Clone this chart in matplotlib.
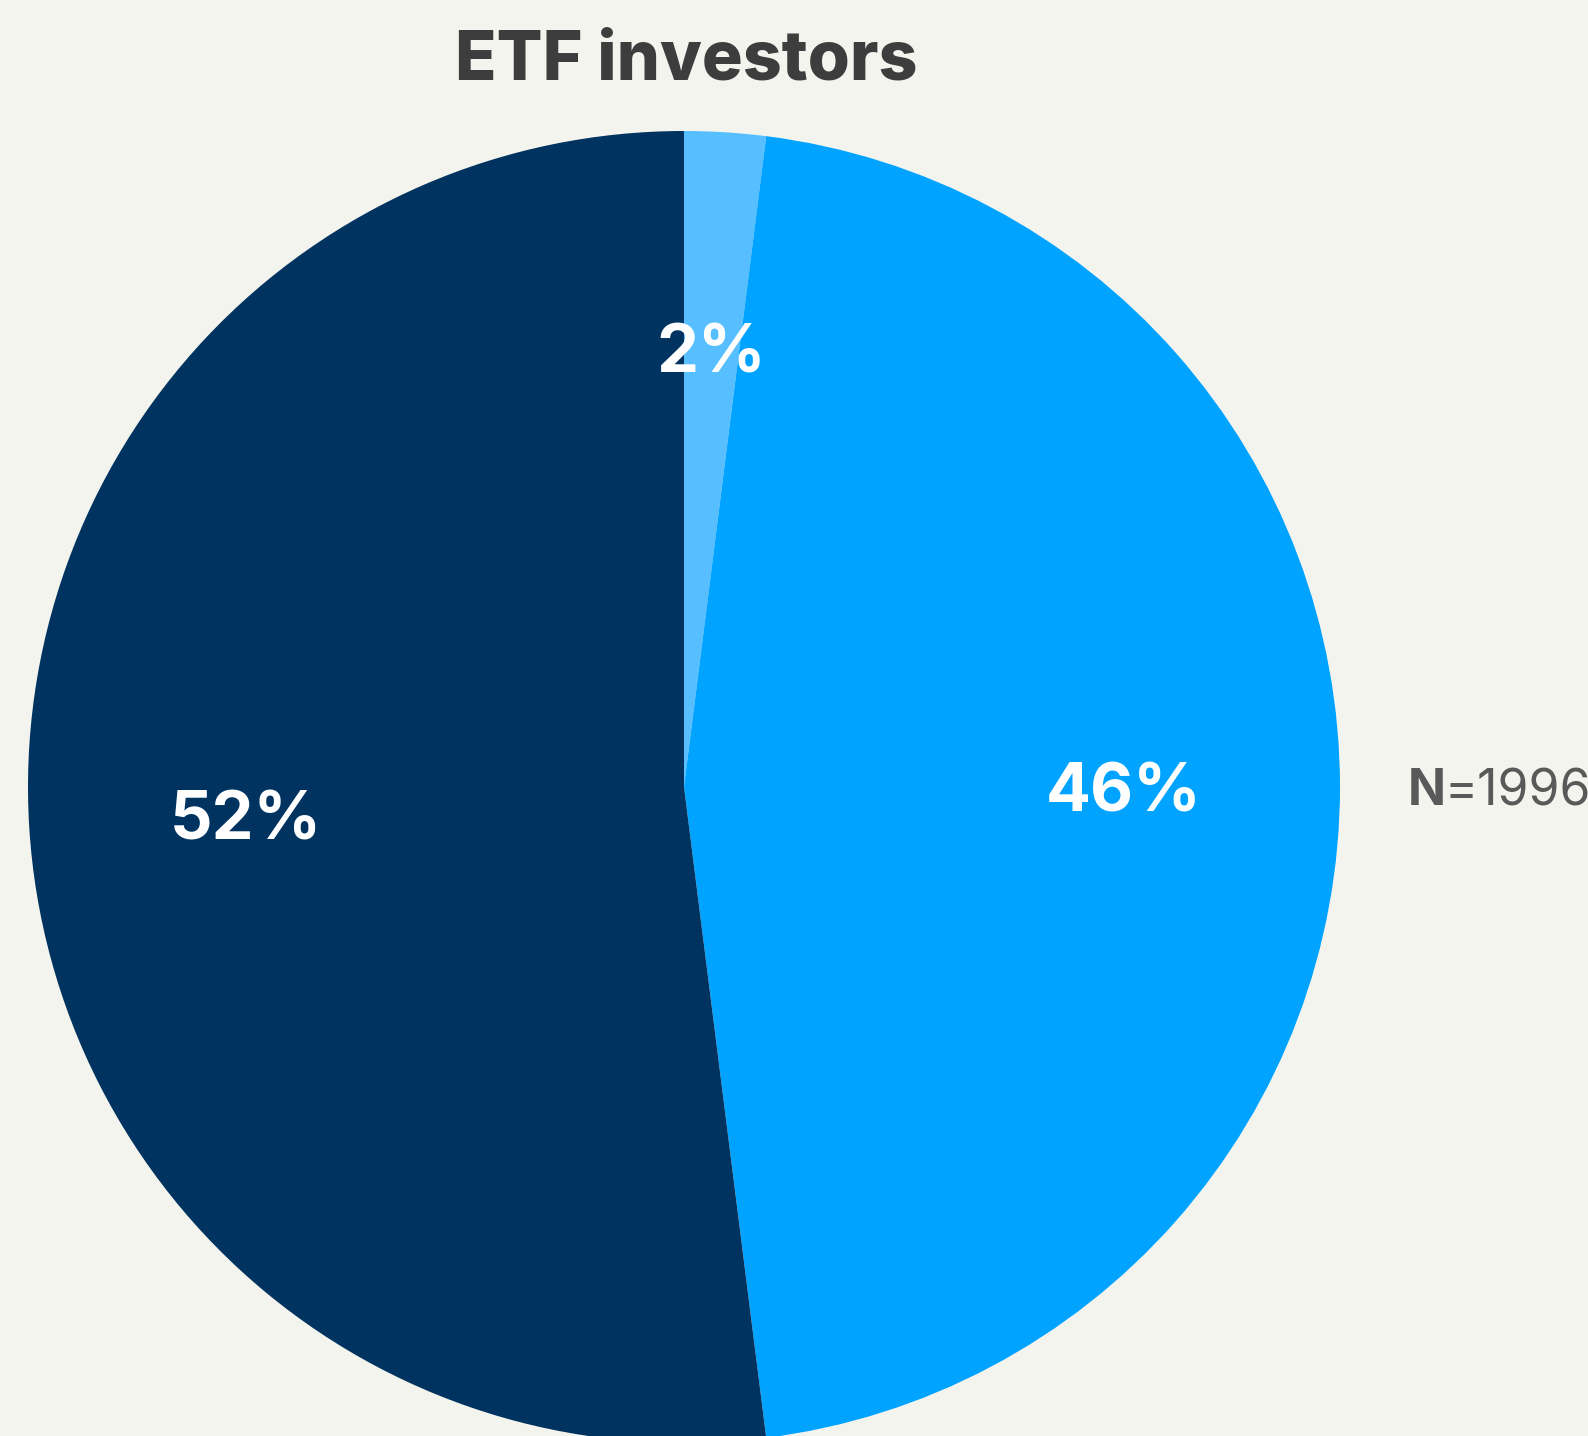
import matplotlib.pyplot as plt

plt.rcParams['font.family'] = ['Inter', 'DejaVu Sans']

# data
shares = [2, 46, 52]
colors = ['#57BFFF', '#00A3FF', '#003360']
title = 'ETF investors'
n_label = '1996'

W, H = 1588, 1436
fig = plt.figure(figsize=(W / 100, H / 100), dpi=100)
fig.patch.set_facecolor('#F4F4EF')

# pie centre and radius in pixels
cx, cy, r = 684, 787, 656
ax = fig.add_axes([(cx - r) / W, (H - cy - r) / H, 2 * r / W, 2 * r / H])
wedges, texts, autotexts = ax.pie(
    shares, colors=colors, startangle=90, counterclock=False,
    autopct=lambda p: f'{p:.0f}%', pctdistance=0.67,
    wedgeprops=dict(linewidth=0),
    textprops=dict(color='white', fontsize=48, fontweight='bold'))
for t in autotexts:
    t.set_va('center_baseline')
ax.set_xlim(-1, 1)
ax.set_ylim(-1, 1)
ax.set_aspect('equal')
ax.axis('off')

fig.text(686 / W, 1 - 80 / H, title, ha='center', va='baseline',
         fontsize=49, fontweight='heavy', color='#3D3D3D')

fig.text(1408 / W, 1 - 805 / H, 'N', ha='left', va='baseline',
         fontsize=36, fontweight='bold', color='#595959')
fig.text(1444 / W, 1 - 805 / H, '=' + n_label, ha='left', va='baseline',
         fontsize=36, color='#595959')

fig.savefig('out.png', dpi=100, facecolor=fig.get_facecolor())
